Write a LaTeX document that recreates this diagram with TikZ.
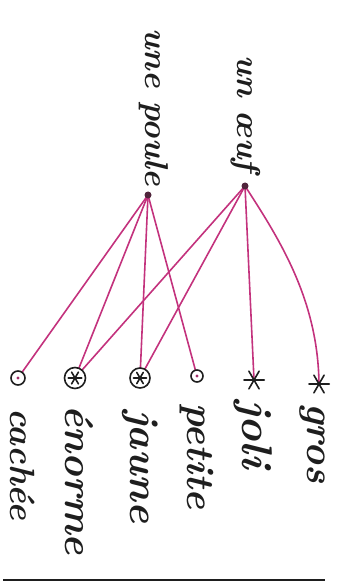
\documentclass[tikz,border=0pt]{standalone}
\usepackage{fontspec}
\usetikzlibrary{backgrounds,calc}
\definecolor{ink}{RGB}{30,30,30}
\definecolor{pinkline}{RGB}{195,50,125}
\tikzset{
  word/.style={rotate=-90,anchor=base west,inner sep=0pt,text=ink,font=\bfseries\itshape\fontsize{#1}{#1}\selectfont},
  ring/.style={circle,draw=ink,line width=1.6pt,minimum size=#1,inner sep=0pt,fill=white},
  starmark/.style={circle,inner sep=0pt,minimum size=#1},
  starline/.style={ink,line width=1.6pt,line cap=round},
  topdot/.style={circle,fill=ink!70!pinkline,inner sep=0pt,minimum size=7pt},
  link/.style={draw=pinkline,line width=1.6pt},
}
\begin{document}
\begin{tikzpicture}[x=1pt,y=-1pt]
\useasboundingbox (0,0) rectangle (344,585);
% titles
\node[word=33] (poule) at (145,28) {une poule};
\node[word=33] (oeuf) at (237,55) {un œuf};
% top dots
\node[topdot] (pd) at (148,195) {};
\node[topdot] (od) at (245,186) {};
% markers
\node[ring=14pt] (mc) at (18,378) {};
\node[ring=21pt] (me) at (75,378) {};
\node[ring=20pt] (mj) at (140,378) {};
\node[ring=12pt] (mp) at (197,376) {};
\node[starmark=20pt] (ml) at (254,380) {};
\node[starmark=20pt] (mg) at (319,384) {};
% asterisks
\foreach \n/\f in {ml/1,mg/1,me/0.6,mj/0.6}{
  \draw[starline] ($(\n.center)!\f!(\n.0)$) -- ($(\n.center)!\f!(\n.180)$)
                  ($(\n.center)!\f!(\n.60)$) -- ($(\n.center)!\f!(\n.240)$)
                  ($(\n.center)!\f!(\n.120)$) -- ($(\n.center)!\f!(\n.300)$);
}
% small inner dots
\fill[pinkline!80!ink] (mc.center) circle (1.6pt);
\fill[pinkline!80!ink] (mp.center) circle (1.6pt);
% words
\node[word=39] (gros) at (307,403) {gros};
\node[word=43] (joli) at (242,400) {joli};
\node[word=39] (petite) at (187,403) {petite};
\node[word=41] (jaune) at (130,410) {jaune};
\node[word=40] (enorme) at (65,405) {énorme};
\node[word=35] (cachee) at (10,408) {cachée};
% connectors
\begin{scope}[on background layer]
\draw[link] (pd.center) -- (mc.center);
\draw[link] (pd.center) -- (me.center);
\draw[link] (pd.center) -- (mj.center);
\draw[link] (pd.center) -- (mp.center);
\draw[link] (od.center) -- (me.center);
\draw[link] (od.center) -- (mj.center);
\draw[link] (od.center) -- (ml.center);
\draw[link] (od.center) .. controls (280,240) and (318,300) .. (mg.center);
\end{scope}
% bottom rule
\coordinate (r1) at (3,580);
\coordinate (r2) at (325,580);
\draw[ink,line width=1.6pt] (r1) -- (r2);
\end{tikzpicture}
\end{document}
